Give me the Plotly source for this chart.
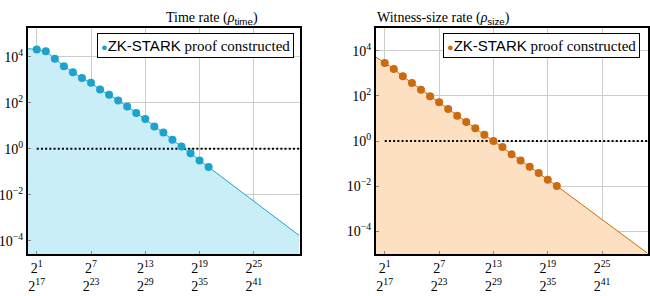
import plotly.graph_objects as go

# ---- data (exponents of 2 on x, log10 values) ----
exp_points = list(range(1, 21))
time_log10 = [4.32, 4.24, 3.91, 3.59, 3.33, 3.07, 2.87, 2.57, 2.35, 2.10,
              1.84, 1.55, 1.29, 0.97, 0.70, 0.39, 0.10, -0.20, -0.51, -0.80]
size_log10 = [3.45, 3.19, 2.86, 2.57, 2.27, 1.98, 1.71, 1.42, 1.12, 0.84,
              0.56, 0.28, 0.00, -0.27, -0.59, -0.86, -1.14, -1.42, -1.71, -1.99]
# extrapolated model line endpoints
time_line_exp = [0] + exp_points + [30]
time_line_log10 = [4.35] + time_log10 + [-3.77]
size_line_exp = [0] + exp_points + [30]
size_line_log10 = [3.72] + size_log10 + [-4.96]
threshold_exp = [1, 30]
threshold_val = [1, 1]
tick_exps = [1, 7, 13, 19, 25]
tick_labels = ["2<sup>%d</sup><br>2<sup>%d</sup>" % (e, e + 16) for e in tick_exps]
ytick_exps = [-4, -2, 0, 2, 4]
ytick_labels = ["10<sup>%s</sup>" % (str(e).replace("-", "−")) for e in ytick_exps]
legend_label = "ZK-STARK proof constructed"

CYAN = "#1ba3cd"
CYAN_FILL = "rgba(201,238,248,1)"
ORANGE = "#cc6a10"
ORANGE_FILL = "rgba(253,224,194,1)"

SERIF = "'Liberation Serif', 'Times New Roman', serif"
SANS_SPAN = "font-family:Liberation Sans"

fig = go.Figure()

def add_panel(xa, ya, line_exp, line_log, pts_log, color, fill, floor):
    xs = [2.0 ** e for e in line_exp]
    ys = [10.0 ** v for v in line_log]
    fig.add_trace(go.Scatter(x=[xs[0], xs[-1]], y=[floor, floor], mode="lines",
                             line=dict(width=0), showlegend=False, hoverinfo="skip",
                             xaxis=xa, yaxis=ya))
    fig.add_trace(go.Scatter(x=xs, y=ys, mode="lines", fill="tonexty", fillcolor=fill,
                             line=dict(color=color, width=1), showlegend=False,
                             xaxis=xa, yaxis=ya))
    fig.add_trace(go.Scatter(x=[2.0 ** e for e in threshold_exp], y=threshold_val,
                             mode="lines", line=dict(color="black", width=2, dash="2px,2.2px"),
                             showlegend=False, xaxis=xa, yaxis=ya))
    fig.add_trace(go.Scatter(x=[2.0 ** e for e in exp_points], y=[10.0 ** v for v in pts_log],
                             mode="markers", marker=dict(color=color, size=8),
                             name=legend_label, showlegend=False,
                             xaxis=xa, yaxis=ya))

add_panel("x", "y", time_line_exp, time_line_log10, time_log10, CYAN, CYAN_FILL, 1e-6)
add_panel("x2", "y2", size_line_exp, size_line_log10, size_log10, ORANGE, ORANGE_FILL, 1e-6)

ydom = [1 - 254 / 296, 1 - 28 / 296]
xdom1 = [27.7 / 650, 300 / 650]
xdom2 = [375.7 / 650, 648.3 / 650]

axis_common = dict(showline=True, mirror=True, linecolor="black", linewidth=1.6,
                   showgrid=True, gridcolor="#cccccc", gridwidth=1,
                   ticks="inside", ticklen=3, tickcolor="#888888",
                   tickfont=dict(family=SERIF, size=14, color="black"),
                   zeroline=False)

xaxis_common = dict(axis_common, type="log", range=[0, 30.1 * 0.30103],
                    tickvals=[2.0 ** e for e in tick_exps], ticktext=tick_labels)
yaxis_common = dict(axis_common, type="log",
                    tickvals=[10.0 ** e for e in ytick_exps], ticktext=ytick_labels)


def legend_text(color):
    name = legend_label.replace("ZK-STARK", "<span style='%s'>ZK-STARK</span>" % SANS_SPAN)
    return "<span style='color:%s;font-size:11px'>●</span>%s" % (color, name)


fig.update_layout(
    width=650, height=296,
    margin=dict(l=0, r=0, t=0, b=0),
    paper_bgcolor="white", plot_bgcolor="white",
    xaxis=dict(xaxis_common, domain=xdom1, anchor="y"),
    yaxis=dict(yaxis_common, domain=ydom, anchor="x", range=[-4.58, 5.25]),
    xaxis2=dict(xaxis_common, domain=xdom2, anchor="y2"),
    yaxis2=dict(yaxis_common, domain=ydom, anchor="x2", range=[-5, 5]),
    showlegend=False,
    annotations=[
        dict(text="Time rate (<i>ρ</i><sub><span style='%s'>time</span></sub>)" % SANS_SPAN,
             x=(xdom1[0] + xdom1[1]) / 2, y=1 - 8 / 296, xref="paper", yref="paper",
             showarrow=False, font=dict(family=SERIF, size=14, color="black")),
        dict(text="Witness-size rate (<i>ρ</i><sub><span style='%s'>size</span></sub>)" % SANS_SPAN,
             x=(xdom2[0] + xdom2[1]) / 2, y=1 - 8 / 296, xref="paper", yref="paper",
             showarrow=False, font=dict(family=SERIF, size=14, color="black")),
        dict(text=legend_text(CYAN), x=294 / 650, y=1 - 33 / 296,
             xref="paper", yref="paper", xanchor="right", yanchor="top",
             showarrow=False, bordercolor="black", borderwidth=1, borderpad=3,
             bgcolor="white", font=dict(family=SERIF, size=15, color="black")),
        dict(text=legend_text(ORANGE), x=640 / 650, y=1 - 33 / 296,
             xref="paper", yref="paper", xanchor="right", yanchor="top",
             showarrow=False, bordercolor="black", borderwidth=1, borderpad=3,
             bgcolor="white", font=dict(family=SERIF, size=15, color="black")),
    ],
)

fig.write_html("out.html")
